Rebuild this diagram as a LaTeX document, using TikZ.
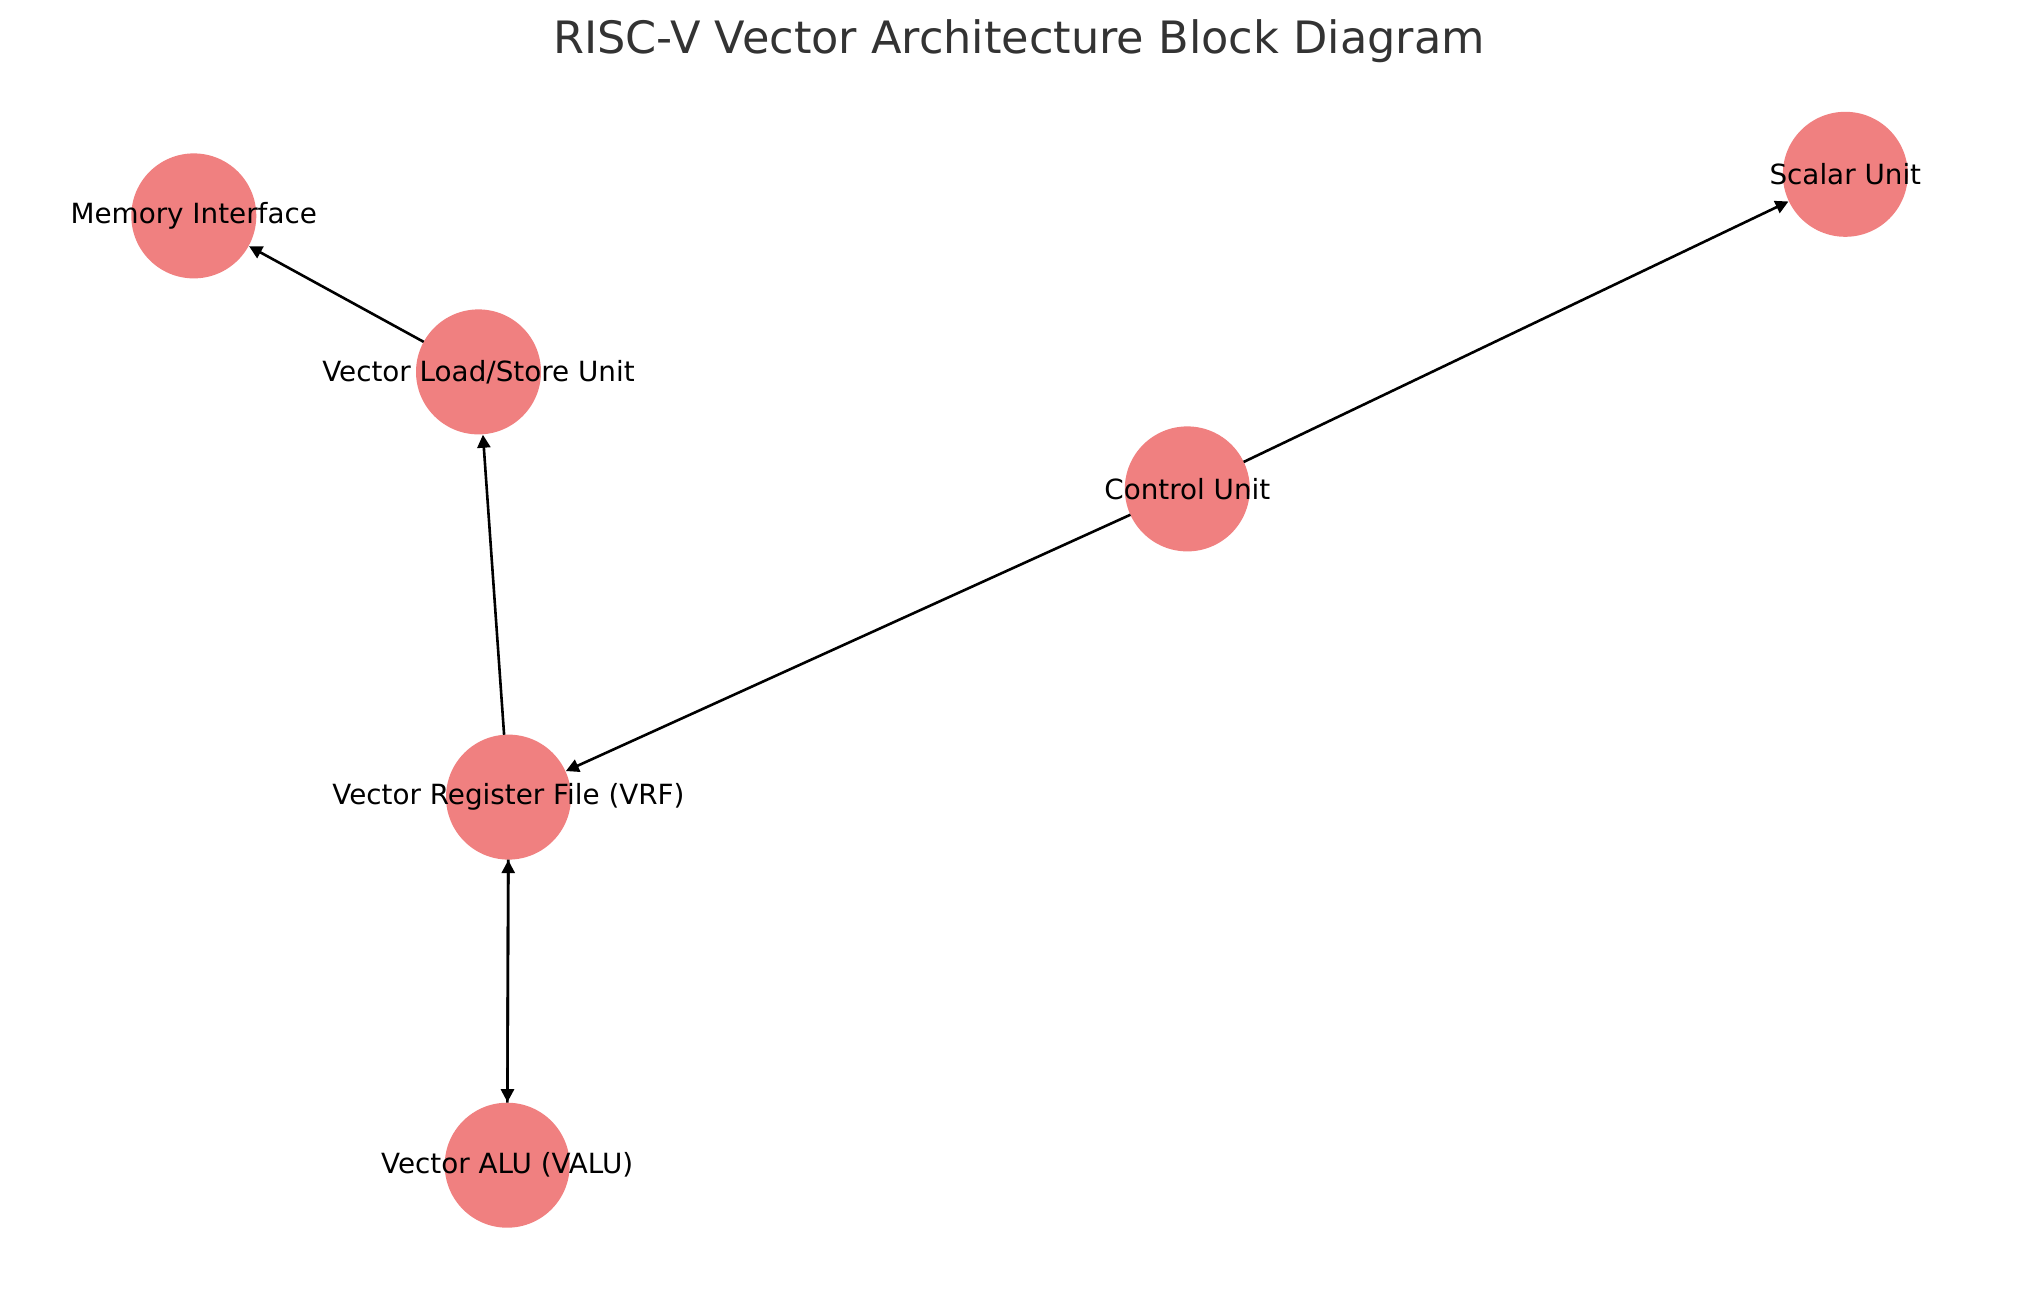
\documentclass[tikz,border=0pt]{standalone}
\usepackage{fontspec}
\setmainfont{DejaVu Sans}
\usetikzlibrary{arrows.meta}
\definecolor{nodefill}{HTML}{F08080}
\definecolor{titlegray}{HTML}{333333}
\tikzset{
  unit/.style={circle, fill=nodefill, draw=none, minimum size=125pt, inner sep=0pt, outer sep=0pt},
  lbl/.style={font=\fontsize{27.8}{32}\selectfont, text=black, inner sep=0pt},
  edge/.style={draw=black, line width=2.6pt, -{Triangle[length=13pt,width=13pt]}, shorten >=0.5pt}
}
\begin{document}
\begin{tikzpicture}[x=1pt,y=-1pt]
\useasboundingbox[fill=white] (0,0) rectangle (2039,1290);
\node[font=\fontsize{44.6}{50}\selectfont, text=titlegray, inner sep=0pt] (title) at (1019,41.5) {RISC-V Vector Architecture Block Diagram};
\node[unit] (mi) at (193.8,215.9) {};
\node[unit] (vls) at (478.5,371.9) {};
\node[unit] (cu) at (1187.3,488.9) {};
\node[unit] (su) at (1845.3,174.3) {};
\node[unit] (vrf) at (508.5,797.1) {};
\node[unit] (valu) at (507.2,1165.2) {};
\draw[edge] (vls) -- (mi);
\draw[edge] (vrf) -- (vls);
\draw[edge] (cu) -- (vrf);
\draw[edge] (cu) -- (su);
\draw[edge] (vrf) -- (valu);
\draw[edge] (valu) -- (vrf);
\node[lbl] (mil) at (mi) {Memory Interface};
\node[lbl] (vlsl) at (vls) {Vector Load/Store Unit};
\node[lbl] (cul) at (cu) {Control Unit};
\node[lbl] (sul) at (su) {Scalar Unit};
\node[lbl] (vrfl) at (vrf) {Vector Register File (VRF)};
\node[lbl] (valul) at (valu) {Vector ALU (VALU)};
\end{tikzpicture}
\end{document}
